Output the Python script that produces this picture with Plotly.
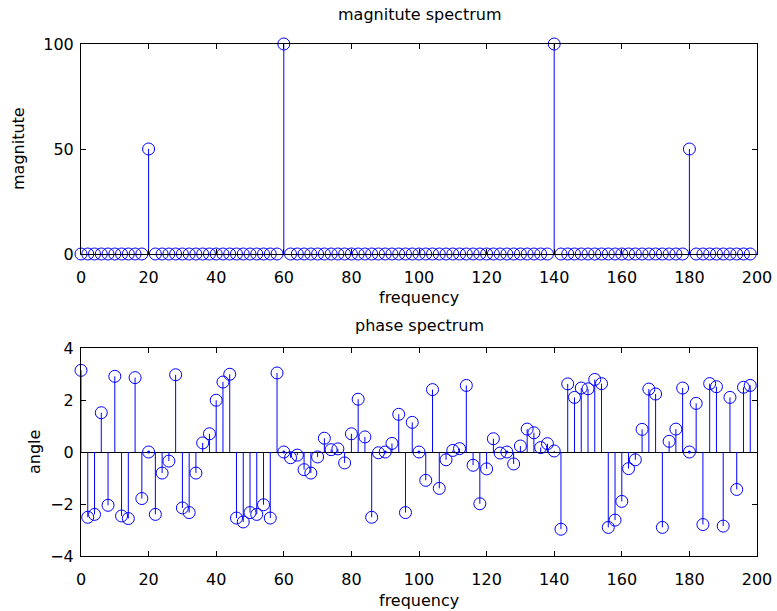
import plotly.graph_objects as go

freq = list(range(0, 200, 2))

magnitude = [0.0] * 100
peak_freqs = [20, 60, 140, 180]
peak_mags = [50, 100, 100, 50]
for pf, pm in zip(peak_freqs, peak_mags):
    magnitude[freq.index(pf)] = pm

phase = [
    3.14, -2.51, -2.40, 1.51, -2.05, 2.91, -2.46, -2.56, 2.86, -1.79,
    0.0, -2.40, -0.81, -0.35, 2.97, -2.15, -2.33, -0.81, 0.35, 0.70,
    1.99, 2.69, 2.99, -2.54, -2.69, -2.33, -2.40, -2.03, -2.54, 3.04,
    0.0, -0.22, -0.12, -0.68, -0.81, -0.19, 0.53, 0.09, 0.12, -0.42,
    0.70, 2.03, 0.58, -2.51, -0.03, 0.0, 0.33, 1.45, -2.33, 1.14,
    0.0, -1.09, 2.40, -1.40, -0.30, 0.06, 0.13, 2.56, -0.51, -1.99,
    -0.65, 0.51, -0.04, 0.0, -0.46, 0.23, 0.88, 0.74, 0.17, 0.32,
    0.04, -2.97, 2.62, 2.10, 2.46, 2.43, 2.79, 2.63, -2.90, -2.62,
    -1.90, -0.64, -0.30, 0.87, 2.42, 2.23, -2.90, 0.41, 0.88, 2.46,
    0.0, 1.87, -2.79, 2.63, 2.51, -2.85, 2.10, -1.44, 2.49, 2.56,
]

BLUE = "rgb(0,0,255)"
FONT = "DejaVu Sans, Liberation Sans, Arial"
W, H = 777, 611
L, R = 81, 757
TOP1, BOT1 = 44, 254
TOP2, BOT2 = 348, 556


def stem_xy(xs, ys):
    sx, sy = [], []
    for x, y in zip(xs, ys):
        sx += [x, x, None]
        sy += [0, y, None]
    return sx, sy


fig = go.Figure()

for xa, ya, vals in [("x", "y", magnitude), ("x2", "y2", phase)]:
    sx, sy = stem_xy(freq, vals)
    fig.add_trace(go.Scatter(x=sx, y=sy, mode="lines", xaxis=xa, yaxis=ya,
                             line=dict(color=BLUE, width=1), hoverinfo="skip",
                             showlegend=False, cliponaxis=False))
    fig.add_trace(go.Scatter(x=freq, y=vals, mode="markers", xaxis=xa, yaxis=ya,
                             marker=dict(symbol="circle-open", size=12, color=BLUE,
                                         line=dict(color=BLUE, width=1)),
                             showlegend=False, cliponaxis=False))

zx = [f for f, v in zip(freq, phase) if abs(v) < 0.005]
zy = [v for v in phase if abs(v) < 0.005]
fig.add_trace(go.Scatter(x=zx, y=zy, mode="markers", xaxis="x2", yaxis="y2",
                         marker=dict(symbol="circle", size=3, color=BLUE),
                         showlegend=False, cliponaxis=False))


def ydom(top, bot):
    return [1 - bot / H, 1 - top / H]


axis_common = dict(showgrid=False, ticks="inside", ticklen=5, tickcolor="black",
                   showline=True, linecolor="black", linewidth=1, mirror="ticks",
                   tickfont=dict(family=FONT, size=16, color="black"),
                   zeroline=False, automargin=False)
xextra = dict(ticklabelstandoff=9)
yextra = dict(ticklabelstandoff=3)

fig.update_layout(
    template="none",
    width=W, height=H, autosize=False,
    margin=dict(l=L, r=W - R, t=0, b=0, pad=0),
    paper_bgcolor="white", plot_bgcolor="white",
    showlegend=False,
    xaxis=dict(domain=[0, 1], range=[0, 200], tickvals=list(range(0, 201, 20)),
               anchor="y", **axis_common, **xextra),
    yaxis=dict(domain=ydom(TOP1, BOT1), range=[0, 100], tickvals=[0, 50, 100],
               anchor="x", **axis_common, **yextra),
    xaxis2=dict(domain=[0, 1], range=[0, 200], tickvals=list(range(0, 201, 20)),
                anchor="y2", **axis_common, **xextra),
    yaxis2=dict(domain=ydom(TOP2, BOT2), range=[-4, 4], tickvals=[-4, -2, 0, 2, 4],
                anchor="x2", **{**axis_common, "zeroline": True,
                                "zerolinecolor": "black", "zerolinewidth": 1},
                **yextra),
    font=dict(family=FONT, size=16, color="black"),
)


def px2paper(px, py):
    return (px - L) / (R - L), 1 - py / H


annots = [
    ("magnitute spectrum", 419, 14, 0),
    ("frequency", 419, 297, 0),
    ("phase spectrum", 419, 325, 0),
    ("frequency", 419, 600, 0),
    ("magnitute", 18, 149, -90),
    ("angle", 35, 452, -90),
]
for text, px, py, ang in annots:
    xp, yp = px2paper(px, py)
    fig.add_annotation(text=text, x=xp, y=yp, xref="paper", yref="paper",
                       showarrow=False, textangle=ang, xanchor="center", yanchor="middle",
                       font=dict(family=FONT, size=16, color="black"))

fig.write_html("out.html")
